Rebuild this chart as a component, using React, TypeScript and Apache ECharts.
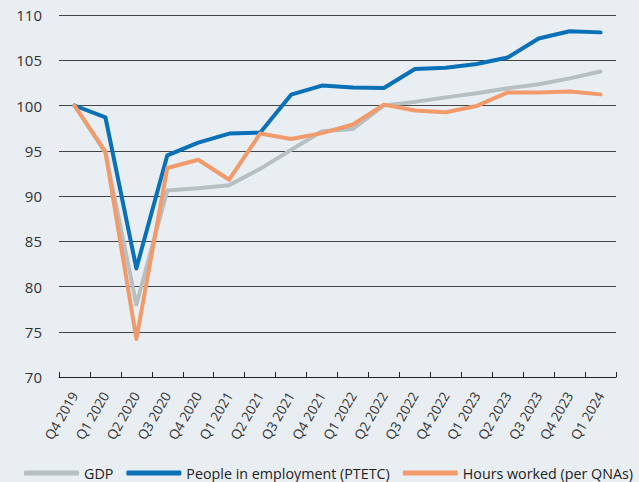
import React, { useEffect, useRef } from "react";
import * as echarts from "echarts";

const categories = [
  "Q4 2019", "Q1 2020", "Q2 2020", "Q3 2020", "Q4 2020", "Q1 2021",
  "Q2 2021", "Q3 2021", "Q4 2021", "Q1 2022", "Q2 2022", "Q3 2022",
  "Q4 2022", "Q1 2023", "Q2 2023", "Q3 2023", "Q4 2023", "Q1 2024",
];

const gdp = [
  100, 94.8, 78.0, 90.6, 90.85, 91.2, 93.0, 95.1, 97.15, 97.4, 100.0, 100.4,
  100.9, 101.35, 101.9, 102.35, 103.0, 103.75,
];

const employment = [
  100, 98.7, 82.0, 94.5, 95.9, 96.9, 97.0, 101.2, 102.2, 102.0, 101.93, 104.03,
  104.18, 104.59, 105.3, 107.4, 108.2, 108.08,
];

const hours = [
  100, 94.9, 74.2, 93.1, 94.0, 91.8, 96.9, 96.3, 96.95, 97.9, 100.1, 99.45,
  99.25, 99.95, 101.45, 101.45, 101.55, 101.23,
];

const yTicks = { min: 70, max: 110, interval: 5 };

const COLORS = { gdp: "#b6c0c1", emp: "#0a70b8", hours: "#f39a6b" };
const BG = "#e9eef3";
const FONT = "'Open Sans', 'Liberation Sans', Arial, sans-serif";

export default function App() {
  const ref = useRef<HTMLDivElement>(null);

  useEffect(() => {
    document.body.style.margin = "0";
    const chart = echarts.init(ref.current!, undefined, { renderer: "svg" });
    const mk = (name: string, data: number[], color: string) => ({
      name,
      type: "line",
      data,
      symbol: "none",
      lineStyle: { color, width: 4, cap: "round", join: "round" },
      itemStyle: { color },
    });
    chart.setOption({
      animation: false,
      backgroundColor: BG,
      textStyle: { fontFamily: FONT },
      grid: { left: 59, right: 23, top: 15, bottom: 105, containLabel: false },
      xAxis: {
        type: "category",
        data: categories,
        boundaryGap: true,
        axisLine: { show: true, lineStyle: { color: "#222", width: 1 } },
        axisTick: { show: true, inside: true, length: 5, alignWithLabel: false, lineStyle: { color: "#222" } },
        axisLabel: {
          rotate: 60,
          margin: 16,
          fontSize: 13.5,
          color: "#333",
          fontFamily: FONT,
          interval: 0,
        },
        splitLine: { show: false },
      },
      yAxis: {
        type: "value",
        min: yTicks.min,
        max: yTicks.max,
        interval: yTicks.interval,
        axisLine: { show: false },
        axisTick: { show: false },
        axisLabel: { fontSize: 15, color: "#333", margin: 17, fontFamily: FONT },
        splitLine: { show: true, lineStyle: { color: "#444", width: 1 } },
      },
      legend: {
        left: 19,
        top: 461,
        icon: "roundRect",
        itemWidth: 55,
        itemHeight: 5,
        itemGap: 13,
        textStyle: { fontSize: 14.3, color: "#222", fontFamily: FONT },
        data: ["GDP", "People in employment (PTETC)", "Hours worked (per QNAs)"],
      },
      series: [
        mk("GDP", gdp, COLORS.gdp),
        mk("People in employment (PTETC)", employment, COLORS.emp),
        mk("Hours worked (per QNAs)", hours, COLORS.hours),
      ],
    });
    return () => chart.dispose();
  }, []);

  return (
    <div
      ref={ref}
      style={{ position: "absolute", left: 0, top: 0, width: 639, height: 482, background: BG }}
    />
  );
}
